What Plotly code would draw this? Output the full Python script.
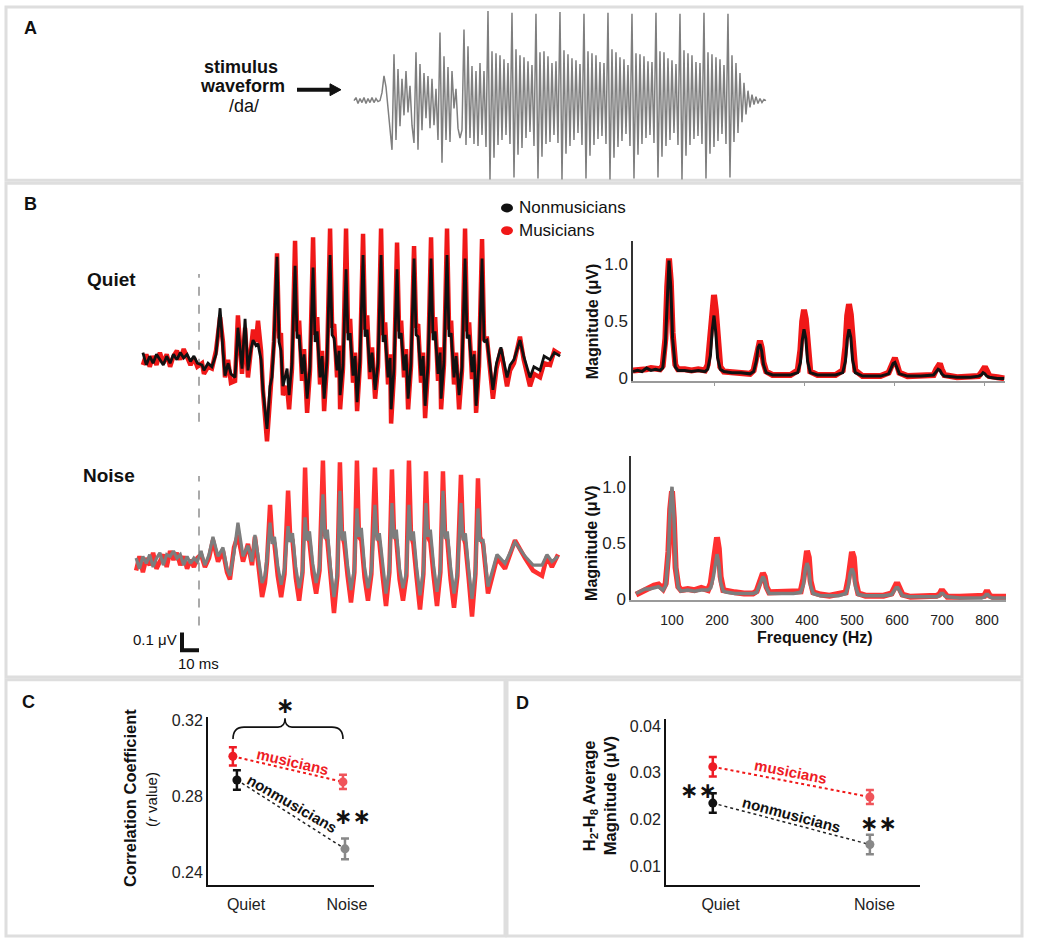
import plotly.graph_objects as go

W, H = 1050, 947
FONT = "Arial, 'Liberation Sans', sans-serif"
AST_FONT = "'DejaVu Sans', sans-serif"

# ---------------- DATA ----------------
# Panel A: stimulus waveform /da/ (sampled, arbitrary amplitude units)
STIM_START_MS = -11.67
STIM_STEP_MS = 0.8333
stim_values = [
    0, 3, -3, 2, -2, 3, -3, 2, -2, 3, -2, 2, -1, 0,
    8, 25, 14, -8, -28, -50, 47, -40, 32, -26, 22, -15,
    30, -12, 15, -25, -43, 49, -50, 37, -30, 28, -18, 25,
    -28, 22, -25, 12, -40, 69, -63, 45, -40, 34, -42, 30,
    -8, 12, -28, -38, -30, 72, -45, 55, -38, 35, -44, 30,
    -46, 38, -35, 30, -47,
    91, -80, 50, -58, 48, -45, 46, -40, 42, -35, 38, -44,
    89, -78, 52, -55, 46, -48, 44, -38, 40, -32, 36, -46,
    88, -79, 49, -57, 50, -44, 45, -42, 38, -35, 40, -43,
    90, -80, 51, -54, 47, -46, 43, -40, 41, -33, 37, -45,
    88, -79, 50, -56, 48, -45, 46, -39, 39, -36, 38, -44,
    89, -80, 52, -58, 49, -47, 44, -41, 42, -34, 36, -46,
    88, -79, 48, -55, 47, -44, 45, -38, 40, -35, 39, -43,
    89, -78, 50, -57, 49, -46, 43, -40, 41, -33, 37, -45,
    88, -80, 51, -56, 48, -45, 46, -39, 39, -36, 38, -44,
    89, -79, 49, -54, 47, -47, 44, -41, 42, -34, 36, -44,
    88, -78, 46, -42, 38, -33, 28, -22, 18, -14, 10, -7,
    6, -4, 4, -3, 2, -2, 1, 0,
]

# Panel B: responses in quiet (time ms, amplitude uV)
quiet_t = [
    -33, -31, -29, -27, -25, -23, -21, -19, -17, -15, -13, -11, -9, -7, -5, -3, -1,
    1.8, 2.9, 5.3, 7.6, 10.0, 12.4, 14.1, 15.3, 17.1, 18.8, 21.2, 22.9, 25.3, 27.1, 28.8,
    30.6, 31.8, 33.5, 34.7, 36.5, 37.6, 40.0, 41.8, 42.9, 44.1,
    45.9, 47.1, 48.2, 49.4, 51.8,
    53.0, 54.7, 56.5, 57.7, 58.9, 60.6, 61.8,
    63.6, 65.3, 67.1, 68.3, 69.5, 71.2, 72.4,
    73.6, 75.3, 77.1, 78.3, 79.5, 81.2, 82.4,
    83.0, 84.7, 86.5, 87.7, 88.9, 90.6, 91.8,
    93.0, 94.7, 96.5, 97.7, 98.9, 100.6, 101.8,
    103.6, 105.3, 107.1, 108.3, 109.5, 111.2, 112.4,
    113.0, 114.7, 116.5, 117.7, 118.9, 120.6, 121.8,
    123.0, 124.7, 126.5, 127.7, 128.9, 130.6, 131.8,
    133.0, 134.7, 136.5, 137.7, 138.9, 140.6, 141.8,
    142.4, 144.1, 145.9, 147.1, 148.3, 150.0, 151.2,
    153.0, 154.7, 156.5, 157.7, 158.9, 160.6, 161.8,
    163.0, 164.7, 166.5,
    167.7, 169.4, 172.9, 175.0, 177.6, 181.2, 183.0, 185.3, 188.8, 191.0, 194.7,
    197.0, 200.6, 203.0, 206.5, 209.0, 212.4,
]
quiet_nonmus = [
    0.04, -0.03, 0.02, -0.02, 0.03, 0.0, -0.03, 0.02, -0.02, 0.03, 0.0, 0.04, 0.01, 0.03, -0.01, 0.02, -0.02,
    -0.03, -0.06, -0.02, -0.04, 0.03, 0.29, 0.05, -0.09, -0.02, -0.08, -0.1, 0.18, -0.05, 0.23, -0.06,
    0.06, 0.11, 0.08, 0.09, 0.0, -0.17, -0.39, -0.15, -0.1, 0.1,
    0.58, 0.1, 0.05, -0.15, -0.05,
    -0.2, -0.02, 0.53, 0.12, 0.14, -0.08, 0.03,
    -0.22, -0.04, 0.52, 0.1, 0.16, -0.1, 0.02,
    -0.22, 0.0, 0.59, 0.14, 0.12, -0.06, 0.05,
    -0.2, -0.03, 0.51, 0.11, 0.15, -0.09, 0.02,
    -0.24, 0.0, 0.59, 0.13, 0.17, -0.07, 0.04,
    -0.17, -0.02, 0.59, 0.1, 0.14, -0.1, 0.01,
    -0.28, -0.05, 0.51, 0.12, 0.15, -0.06, 0.03,
    -0.22, -0.02, 0.57, 0.14, 0.13, -0.09, 0.02,
    -0.26, -0.03, 0.57, 0.11, 0.16, -0.08, 0.04,
    -0.22, -0.01, 0.59, 0.13, 0.15, -0.1, 0.02,
    -0.2, -0.04, 0.57, 0.12, 0.14, -0.07, 0.03,
    -0.26, -0.02, 0.57,
    0.1, 0.11, -0.17, -0.02, 0.07, -0.1, -0.03, 0.0, 0.11, 0.02, -0.1,
    -0.04, -0.06, 0.02, 0.0, 0.04, 0.02,
]
quiet_mus = [
    -0.03, 0.03, -0.04, 0.02, -0.03, 0.04, -0.02, 0.03, -0.04, 0.02, 0.05, 0.0, 0.06, 0.02, -0.03, 0.01, -0.04,
    -0.02, -0.08, -0.04, -0.05, 0.05, 0.24, 0.1, -0.1, 0.0, -0.13, -0.12, 0.25, -0.08, 0.18, -0.1,
    0.05, 0.17, 0.1, 0.22, 0.05, -0.17, -0.46, -0.2, -0.12, 0.1,
    0.6, 0.12, 0.15, -0.2, -0.15,
    -0.28, -0.05, 0.67, 0.16, 0.22, -0.12, 0.06,
    -0.3, -0.06, 0.69, 0.14, 0.24, -0.14, 0.05,
    -0.29, -0.02, 0.74, 0.18, 0.2, -0.1, 0.08,
    -0.28, -0.05, 0.74, 0.15, 0.23, -0.13, 0.04,
    -0.29, -0.02, 0.71, 0.17, 0.25, -0.11, 0.07,
    -0.22, -0.04, 0.74, 0.14, 0.21, -0.14, 0.03,
    -0.36, -0.08, 0.66, 0.16, 0.22, -0.1, 0.06,
    -0.28, -0.04, 0.64, 0.18, 0.2, -0.13, 0.04,
    -0.33, -0.05, 0.69, 0.15, 0.24, -0.12, 0.07,
    -0.28, -0.03, 0.74, 0.17, 0.22, -0.14, 0.04,
    -0.28, -0.06, 0.74, 0.16, 0.21, -0.11, 0.05,
    -0.3, -0.04, 0.68,
    0.12, 0.12, -0.22, -0.05, 0.06, -0.15, -0.06, -0.02, 0.13, 0.0, -0.15,
    -0.08, -0.1, -0.02, -0.03, 0.05, 0.03,
]

# Panel B: responses in noise
noise_t = [
    -37, -35, -33, -31, -29, -27, -25, -23, -21, -19, -17, -15, -13, -11, -9, -7, -5, -3, -1,
    1.2, 3.5, 5.9, 8.2, 11.2, 14.1, 16.5, 18.2, 20.6, 22.9, 25.9, 28.8, 31.2, 32.9, 34.7, 37.1, 38.8, 40.0,
    41.8, 43.0, 44.4, 46.3, 48.3, 50.3,
    52.4, 53.6, 55.0, 56.9, 58.9, 60.9,
    62.4, 63.6, 65.0, 66.9, 68.9, 70.9,
    72.9, 74.1, 75.5, 77.4, 79.4, 81.4,
    82.9, 84.1, 85.5, 87.4, 89.4, 91.4,
    92.9, 94.1, 95.5, 97.4, 99.4, 101.4,
    103.5, 104.7, 106.1, 108.0, 110.0, 112.0,
    113.5, 114.7, 116.1, 118.0, 120.0, 122.0,
    123.5, 124.7, 126.1, 128.0, 130.0, 132.0,
    133.5, 134.7, 136.1, 138.0, 140.0, 142.0,
    143.5, 144.7, 146.1, 148.0, 150.0, 152.0,
    154.1, 155.3, 156.7, 158.6, 160.6, 162.6,
    164.1, 165.3,
    167.1, 170.0, 175.3, 180.0, 185.9, 191.8, 196.5, 201.8, 204.7, 207.6, 211.2,
]
noise_nonmus = [
    0.02, -0.04, 0.03, -0.01, 0.04, -0.03, 0.02, 0.05, -0.02, 0.04, 0.03, 0.06, 0.02, 0.04, -0.02, 0.03, -0.01, 0.02, 0.0,
    0.06, -0.02, 0.04, 0.14, 0.03, 0.08, -0.04, -0.08, 0.05, 0.22, 0.03, 0.09, 0.0, 0.15, 0.02, -0.12, -0.08, 0.02,
    0.22, 0.1, 0.14, -0.02, -0.13, -0.04,
    0.2, 0.11, 0.16, -0.03, -0.15, -0.05,
    0.25, 0.12, 0.17, -0.01, -0.12, -0.03,
    0.38, 0.13, 0.18, -0.04, -0.2, -0.06,
    0.4, 0.12, 0.17, -0.02, -0.16, -0.04,
    0.3, 0.14, 0.19, -0.03, -0.15, -0.05,
    0.32, 0.12, 0.16, -0.02, -0.18, -0.04,
    0.33, 0.13, 0.18, -0.04, -0.15, -0.06,
    0.32, 0.12, 0.17, -0.03, -0.19, -0.05,
    0.33, 0.14, 0.18, -0.02, -0.17, -0.04,
    0.4, 0.13, 0.17, -0.03, -0.18, -0.06,
    0.33, 0.12, 0.16, -0.04, -0.21, -0.05,
    0.3, 0.12,
    0.12, -0.14, 0.04, -0.01, 0.11, 0.03, -0.02, -0.02, 0.04, 0.0, 0.03,
]
noise_mus = [
    -0.05, 0.03, -0.06, 0.02, -0.02, 0.05, -0.04, 0.0, 0.04, -0.03, 0.06, 0.01, 0.05, -0.02, 0.03, -0.04, 0.01, -0.03, 0.02,
    0.04, -0.03, 0.02, 0.12, 0.0, 0.06, -0.06, -0.1, 0.08, 0.15, 0.0, 0.1, -0.02, 0.14, 0.0, -0.2, -0.12, 0.0,
    0.32, 0.14, 0.1, -0.08, -0.2, -0.07,
    0.4, 0.15, 0.12, -0.09, -0.22, -0.06,
    0.53, 0.16, 0.11, -0.07, -0.18, -0.05,
    0.57, 0.15, 0.12, -0.1, -0.29, -0.08,
    0.56, 0.16, 0.1, -0.08, -0.23, -0.06,
    0.57, 0.14, 0.12, -0.09, -0.22, -0.07,
    0.53, 0.15, 0.11, -0.08, -0.25, -0.06,
    0.52, 0.16, 0.12, -0.1, -0.22, -0.08,
    0.57, 0.15, 0.1, -0.09, -0.27, -0.07,
    0.51, 0.14, 0.11, -0.08, -0.25, -0.06,
    0.51, 0.16, 0.12, -0.1, -0.26, -0.08,
    0.49, 0.15, 0.1, -0.09, -0.31, -0.07,
    0.47, 0.14,
    0.1, -0.18, 0.02, -0.04, 0.12, 0.02, -0.05, -0.08, 0.03, -0.03, 0.04,
]

# Panel B: spectra (frequency Hz, magnitude uV)
freq_hz = [
    20, 30, 40, 50, 60, 70, 80, 86, 92, 96, 100, 104, 108, 114, 120,
    135, 150, 165, 180, 186, 192, 196, 200, 204, 208, 214, 222,
    240, 260, 280, 288, 294, 298, 302, 306, 310, 316,
    330, 350, 370, 386, 392, 396, 400, 404, 408, 414,
    430, 450, 470, 486, 492, 496, 500, 504, 508, 514,
    530, 550, 570, 588, 594, 598, 602, 606, 612,
    630, 660, 688, 694, 698, 702, 706, 712,
    740, 770, 788, 794, 798, 802, 806, 812, 830, 845,
]
spec_quiet_nonmus = [
    0.06, 0.07, 0.06, 0.09, 0.07, 0.08, 0.07, 0.09, 0.3, 0.75, 1.03, 0.8, 0.35, 0.1, 0.07,
    0.07, 0.06, 0.07, 0.06, 0.08, 0.2, 0.42, 0.55, 0.4, 0.18, 0.08, 0.06,
    0.05, 0.05, 0.04, 0.06, 0.15, 0.27, 0.3, 0.24, 0.12, 0.05,
    0.03, 0.03, 0.03, 0.05, 0.14, 0.33, 0.43, 0.35, 0.15, 0.05,
    0.03, 0.03, 0.03, 0.05, 0.15, 0.34, 0.43, 0.36, 0.16, 0.05,
    0.02, 0.02, 0.02, 0.04, 0.09, 0.13, 0.14, 0.1, 0.04,
    0.02, 0.02, 0.03, 0.06, 0.08, 0.07, 0.04, 0.02,
    0.01, 0.01, 0.02, 0.03, 0.05, 0.04, 0.02, 0.01, 0.0, 0.0,
]
spec_quiet_mus = [
    0.07, 0.07, 0.08, 0.08, 0.09, 0.08, 0.08, 0.11, 0.35, 0.8, 1.05, 0.85, 0.4, 0.12, 0.08,
    0.08, 0.07, 0.08, 0.07, 0.12, 0.35, 0.62, 0.73, 0.6, 0.3, 0.1, 0.06,
    0.05, 0.05, 0.04, 0.07, 0.18, 0.3, 0.33, 0.27, 0.14, 0.06,
    0.03, 0.03, 0.03, 0.07, 0.25, 0.5, 0.6, 0.52, 0.25, 0.06,
    0.03, 0.03, 0.03, 0.07, 0.28, 0.55, 0.65, 0.56, 0.28, 0.07,
    0.02, 0.02, 0.02, 0.05, 0.12, 0.17, 0.18, 0.13, 0.05,
    0.02, 0.02, 0.03, 0.08, 0.12, 0.13, 0.08, 0.03,
    0.01, 0.01, 0.02, 0.05, 0.09, 0.1, 0.07, 0.02, 0.01, 0.0,
]
spec_noise_nonmus = [
    0.05, 0.07, 0.09, 0.09, 0.1, 0.11, 0.08, 0.12, 0.4, 0.82, 1.0, 0.75, 0.3, 0.1, 0.07,
    0.08, 0.07, 0.08, 0.08, 0.1, 0.2, 0.33, 0.4, 0.32, 0.15, 0.07, 0.06,
    0.05, 0.05, 0.05, 0.06, 0.12, 0.18, 0.2, 0.17, 0.1, 0.05,
    0.05, 0.05, 0.05, 0.06, 0.13, 0.26, 0.32, 0.27, 0.12, 0.05,
    0.03, 0.03, 0.03, 0.05, 0.12, 0.23, 0.27, 0.23, 0.11, 0.04,
    0.03, 0.03, 0.03, 0.04, 0.07, 0.1, 0.1, 0.07, 0.03,
    0.02, 0.02, 0.02, 0.03, 0.05, 0.05, 0.03, 0.02,
    0.01, 0.01, 0.01, 0.02, 0.04, 0.04, 0.02, 0.01, 0.01, 0.01,
]
spec_noise_mus = [
    0.04, 0.06, 0.09, 0.1, 0.12, 0.13, 0.09, 0.14, 0.42, 0.8, 0.96, 0.72, 0.28, 0.11, 0.08,
    0.09, 0.08, 0.1, 0.08, 0.14, 0.32, 0.5, 0.55, 0.45, 0.2, 0.08, 0.07,
    0.06, 0.05, 0.05, 0.07, 0.14, 0.2, 0.23, 0.2, 0.11, 0.06,
    0.06, 0.06, 0.06, 0.07, 0.18, 0.36, 0.43, 0.37, 0.16, 0.06,
    0.04, 0.03, 0.04, 0.06, 0.18, 0.36, 0.42, 0.37, 0.16, 0.05,
    0.03, 0.03, 0.03, 0.05, 0.09, 0.13, 0.13, 0.09, 0.04,
    0.02, 0.02, 0.03, 0.04, 0.07, 0.07, 0.04, 0.02,
    0.02, 0.02, 0.02, 0.03, 0.06, 0.06, 0.03, 0.02, 0.02, 0.02,
]
spec_ticks = [100, 200, 300, 400, 500, 600, 700, 800]

# Panels C and D
conditions = ["Quiet", "Noise"]
corr_mus = [0.301, 0.2875]
corr_mus_err = [0.0048, 0.0038]
corr_non = [0.2885, 0.2522]
corr_non_err = [0.0052, 0.0055]
corr_ticks = [0.24, 0.28, 0.32]

harm_mus = [0.0313, 0.0248]
harm_mus_err = [0.0021, 0.0015]
harm_non = [0.0235, 0.0146]
harm_non_err = [0.0021, 0.0021]
harm_ticks = [0.01, 0.02, 0.03, 0.04]

assert len(quiet_t) == len(quiet_nonmus) == len(quiet_mus)
assert len(noise_t) == len(noise_nonmus) == len(noise_mus)
assert len(freq_hz) == len(spec_quiet_nonmus) == len(spec_quiet_mus) == len(spec_noise_nonmus) == len(spec_noise_mus)

# ---------------- helpers ----------------
def X(p):
    return p / W

def Y(p):
    return 1 - p / H

def dom_x(a, b):
    return [X(a), X(b)]

def dom_y(top, bottom):
    return [Y(bottom), Y(top)]

RED = "#f01818"
RED_LIGHT = "#ff3030"
BLACK = "#111111"
GRAY = "#7d7d7d"

stim_t = [STIM_START_MS + i * STIM_STEP_MS for i in range(len(stim_values))]

fig = go.Figure()

# A: stimulus
fig.add_trace(go.Scatter(x=stim_t, y=stim_values, mode="lines",
                         line=dict(color="#7f7f7f", width=1.5), xaxis="x", yaxis="y"))
# B quiet
fig.add_trace(go.Scatter(x=quiet_t, y=quiet_mus, mode="lines",
                         line=dict(color=RED, width=4.5), xaxis="x2", yaxis="y2"))
fig.add_trace(go.Scatter(x=quiet_t, y=quiet_nonmus, mode="lines",
                         line=dict(color=BLACK, width=2.8), xaxis="x2", yaxis="y2"))
# B noise
fig.add_trace(go.Scatter(x=noise_t, y=noise_mus, mode="lines",
                         line=dict(color=RED_LIGHT, width=4.5), xaxis="x3", yaxis="y3"))
fig.add_trace(go.Scatter(x=noise_t, y=noise_nonmus, mode="lines",
                         line=dict(color=GRAY, width=3.2), xaxis="x3", yaxis="y3"))
# B spectra
fig.add_trace(go.Scatter(x=freq_hz, y=spec_quiet_mus, mode="lines",
                         line=dict(color=RED, width=6), xaxis="x4", yaxis="y4"))
fig.add_trace(go.Scatter(x=freq_hz, y=spec_quiet_nonmus, mode="lines",
                         line=dict(color=BLACK, width=3), xaxis="x4", yaxis="y4"))
fig.add_trace(go.Scatter(x=freq_hz, y=spec_noise_mus, mode="lines",
                         line=dict(color=RED_LIGHT, width=6), xaxis="x5", yaxis="y5"))
fig.add_trace(go.Scatter(x=freq_hz, y=spec_noise_nonmus, mode="lines",
                         line=dict(color=GRAY, width=3.5), xaxis="x5", yaxis="y5"))

# C and D
def group_points(xa, ya, mus, mus_err, non, non_err, q_off, n_off):
    xs = [i for i in range(len(conditions))]
    xm = [xs[0] + q_off[0], xs[1] + n_off[0]]
    xn = [xs[0] + q_off[1], xs[1] + n_off[1]]
    fig.add_trace(go.Scatter(x=xm, y=mus, mode="lines", line=dict(color=RED, width=2, dash="dot"),
                             xaxis=xa, yaxis=ya))
    fig.add_trace(go.Scatter(x=xn, y=non, mode="lines", line=dict(color="#222222", width=1.5, dash="dot"),
                             xaxis=xa, yaxis=ya))
    pts = [
        (xm[0], mus[0], mus_err[0], "#ee1c25"),
        (xm[1], mus[1], mus_err[1], "#f0545a"),
        (xn[0], non[0], non_err[0], "#111111"),
        (xn[1], non[1], non_err[1], "#888888"),
    ]
    for px_, py_, pe, col in pts:
        fig.add_trace(go.Scatter(x=[px_], y=[py_], mode="markers",
                                 marker=dict(color=col, size=9),
                                 error_y=dict(type="data", array=[pe], color=col, thickness=2.5, width=4),
                                 xaxis=xa, yaxis=ya))

group_points("x6", "y6", corr_mus, corr_mus_err, corr_non, corr_non_err, (-0.13, -0.09), (-0.04, -0.02))
group_points("x7", "y7", harm_mus, harm_mus_err, harm_non, harm_non_err, (-0.05, -0.05), (-0.03, -0.03))

# ---------------- axes ----------------
hidden = dict(visible=False, showgrid=False, zeroline=False, fixedrange=True)
TF = dict(family=FONT, size=16, color="#222222")
TF17 = dict(family=FONT, size=17, color="#222222")

layout = dict(
    width=W, height=H, margin=dict(l=0, r=0, t=0, b=0),
    paper_bgcolor="white", plot_bgcolor="rgba(0,0,0,0)", showlegend=False,
    font=dict(family=FONT, color="#111111"),
    # A
    xaxis=dict(hidden, domain=dom_x(340, 780), range=[(340 - 382) / 2.4, (780 - 382) / 2.4], anchor="y"),
    yaxis=dict(hidden, domain=dom_y(4, 180), range=[-83, 93], anchor="x"),
    # B quiet
    xaxis2=dict(hidden, domain=dom_x(130, 565), range=[(130 - 199) / 1.7, (565 - 199) / 1.7], anchor="y2"),
    yaxis2=dict(hidden, domain=dom_y(220, 450), range=[(360 - 450) / 180, (360 - 220) / 180], anchor="x2"),
    # B noise
    xaxis3=dict(hidden, domain=dom_x(130, 565), range=[(130 - 199) / 1.7, (565 - 199) / 1.7], anchor="y3"),
    yaxis3=dict(hidden, domain=dom_y(455, 662), range=[(565 - 662) / 180, (565 - 455) / 180], anchor="x3"),
    # B quiet spectrum
    xaxis4=dict(domain=dom_x(633, 1005), range=[(633 - 624) / 0.45, (1005 - 624) / 0.45], anchor="y4",
                showline=True, linecolor="#9a9a9a", linewidth=1.5, showgrid=False, zeroline=False,
                tickvals=spec_ticks[1::2], ticks="outside", ticklen=3, tickcolor="#9a9a9a",
                showticklabels=False),
    yaxis4=dict(domain=dom_y(240, 382), range=[(379 - 382) / 116, (379 - 240) / 116], anchor="x4",
                showline=True, linecolor="#333333", linewidth=1.5, showgrid=False, zeroline=False,
                tickvals=[0, 0.5, 1.0], ticktext=["0", "0.5", "1.0"], ticks="", tickfont=TF17),
    # B noise spectrum
    xaxis5=dict(domain=dom_x(631, 1006), range=[(631 - 627) / 0.45, (1006 - 627) / 0.45], anchor="y5",
                showline=True, linecolor="#9a9a9a", linewidth=1.5, showgrid=False, zeroline=False,
                tickvals=spec_ticks, ticktext=[str(v) for v in spec_ticks], ticks="outside", ticklen=6,
                tickcolor="rgba(0,0,0,0)", tickfont=dict(family=FONT, size=14, color="#222222")),
    yaxis5=dict(domain=dom_y(458, 604), range=[(603 - 604) / 114, (603 - 458) / 114], anchor="x5",
                showline=True, linecolor="#333333", linewidth=1.5, showgrid=False, zeroline=False,
                tickvals=[0, 0.5, 1.0], ticktext=["0", "0.5", "1.0"], ticks="", tickfont=TF17),
    # C
    xaxis6=dict(domain=dom_x(208, 374), range=[(208 - 246) / 101, (374 - 246) / 101], anchor="y6",
                showline=True, linecolor="#111111", linewidth=1.8, showgrid=False, zeroline=False,
                tickvals=[0, 1], ticktext=conditions, ticks="outside", ticklen=4,
                tickcolor="rgba(0,0,0,0)", tickfont=TF),
    yaxis6=dict(domain=dom_y(723, 893), range=[0.32 - (893 - 726) / 1925, 0.32 + 3 / 1925], anchor="x6",
                showline=True, linecolor="#111111", linewidth=1.8, showgrid=False, zeroline=False,
                tickvals=corr_ticks, ticktext=["%.2f" % v for v in corr_ticks], ticks="", tickfont=TF),
    # D
    xaxis7=dict(domain=dom_x(666, 920), range=[(666 - 720.5) / 154, (920 - 720.5) / 154], anchor="y7",
                showline=True, linecolor="#111111", linewidth=1.8, showgrid=False, zeroline=False,
                tickvals=[0, 1], ticktext=conditions, ticks="outside", ticklen=4,
                tickcolor="rgba(0,0,0,0)", tickfont=TF),
    yaxis7=dict(domain=dom_y(725, 893), range=[0.04 - (893 - 732) / 4730, 0.04 + 7 / 4730], anchor="x7",
                showline=True, linecolor="#111111", linewidth=1.8, showgrid=False, zeroline=False,
                tickvals=harm_ticks, ticktext=["%.2f" % v for v in harm_ticks], ticks="", tickfont=TF),
)
fig.update_layout(**layout)

# ---------------- shapes ----------------
shapes = []
BORDER = dict(color="#dedede", width=3)
for (x0, y0, x1, y1) in [(6, 2, 1022, 178), (6, 181, 1022, 682), (6, 685, 505, 945), (507, 685, 1022, 945)]:
    shapes.append(dict(type="rect", xref="paper", yref="paper", x0=X(x0), x1=X(x1), y0=Y(y1), y1=Y(y0),
                       line=BORDER, fillcolor="rgba(0,0,0,0)", layer="below"))
# onset dashed lines
shapes.append(dict(type="line", xref="x2", yref="y2", x0=0, x1=0, y0=-0.35, y1=0.483,
                   line=dict(color="#aaaaaa", width=2, dash="dash"), layer="below"))
shapes.append(dict(type="line", xref="x3", yref="y3", x0=0, x1=0, y0=-0.36, y1=0.483,
                   line=dict(color="#aaaaaa", width=2, dash="dash"), layer="below"))
# scale bar: 0.1 uV, 10 ms
shapes.append(dict(type="path", xref="x3", yref="y3",
                   path="M -10,-0.40 L -10,-0.50 L 0,-0.50", line=dict(color="#111111", width=4)))
# legend markers
for yy, col in [(206, BLACK), (229, RED)]:
    shapes.append(dict(type="circle", xref="paper", yref="paper", x0=X(501), x1=X(513), y0=Y(yy + 4.5),
                       y1=Y(yy - 4.5), fillcolor=col, line=dict(color=col, width=0)))

def P(x, y):
    return "%.5f,%.5f" % (X(x), Y(y))

# arrow in A
shapes.append(dict(type="line", xref="paper", yref="paper", x0=X(297), x1=X(332), y0=Y(86), y1=Y(86),
                   line=dict(color="#111111", width=4)))
shapes.append(dict(type="path", xref="paper", yref="paper",
                   path="M " + P(330, 80) + " L " + P(341, 86) + " L " + P(330, 92) + " Z",
                   fillcolor="#111111", line=dict(color="#111111", width=1)))

# brace in C
brace = ("M " + P(233, 745) + " Q " + P(233, 733) + " " + P(244, 733) + " L " + P(278, 733) +
         " Q " + P(285, 733) + " " + P(285, 724) + " Q " + P(285, 733) + " " + P(292, 733) +
         " L " + P(332, 733) + " Q " + P(343, 733) + " " + P(343, 745))
shapes.append(dict(type="path", xref="paper", yref="paper", path=brace, line=dict(color="#111111", width=1.6)))
fig.update_layout(shapes=shapes)

# ---------------- annotations ----------------
ann = []

def text(x, y, s, size=15, bold=False, color="#111111", angle=0, xanchor="center", family=FONT):
    t = "<b>%s</b>" % s if bold else s
    ann.append(dict(x=X(x), y=Y(y), xref="paper", yref="paper", text=t, showarrow=False,
                    xanchor=xanchor, yanchor="middle", textangle=angle,
                    font=dict(family=family, size=size, color=color)))

# panel letters
text(30, 23, "A", 18, True)
text(30, 202, "B", 18, True)
text(28, 707, "C", 18, True)
text(522, 708, "D", 18, True)

# A labels
text(241, 63, "stimulus", 18, True)
text(242, 82, "waveform", 18, True)
text(244, 103, "/da/", 18)

# B labels
text(111, 279, "Quiet", 19, True)
text(109, 478, "Noise", 19, True)
text(517, 206, "Nonmusicians", 17, xanchor="left")
text(517, 229, "Musicians", 17, xanchor="left")
text(179, 644, "0.1 μV", 15, xanchor="right")
text(198, 668, "10 ms", 15)
text(592, 321, "Magnitude (μV)", 16, True, angle=-90)
text(592, 546, "Magnitude (μV)", 16, True, angle=-90)
text(815, 642, "Frequency (Hz)", 16, True)

# C labels
text(130, 805, "Correlation Coefficient", 16.5, True, angle=-90)
text(151, 807, "(<i>r</i> value)", 15, angle=-90)
text(292, 768, "musicians", 15, True, color="#ee1c25", angle=13)
text(292, 810, "nonmusicians", 15, True, angle=30)
text(352, 824, "∗∗", 22, True, family=AST_FONT)
text(285, 711, "∗", 22, True, family=AST_FONT)

# D labels
text(590, 803, "H<sub>2</sub>-H<sub>8</sub> Average", 16.5, True, angle=-90)
text(610, 803, "Magnitude (μV)", 16.5, True, angle=-90)
text(790, 778, "musicians", 15, True, color="#ee1c25", angle=11)
text(791, 822, "nonmusicians", 15, True, angle=15)
text(698, 797, "∗∗", 22, True, family=AST_FONT)
text(878, 831, "∗∗", 22, True, family=AST_FONT)

fig.update_layout(annotations=ann)

POST = ("var d=document.documentElement,b=document.body;"
        "d.style.margin='0';d.style.padding='0';d.style.overflow='hidden';d.style.height='947px';"
        "b.style.margin='0';b.style.padding='0';b.style.overflow='hidden';b.style.height='947px';")
fig.write_html("out.html", config={"displayModeBar": False}, post_script=POST)
